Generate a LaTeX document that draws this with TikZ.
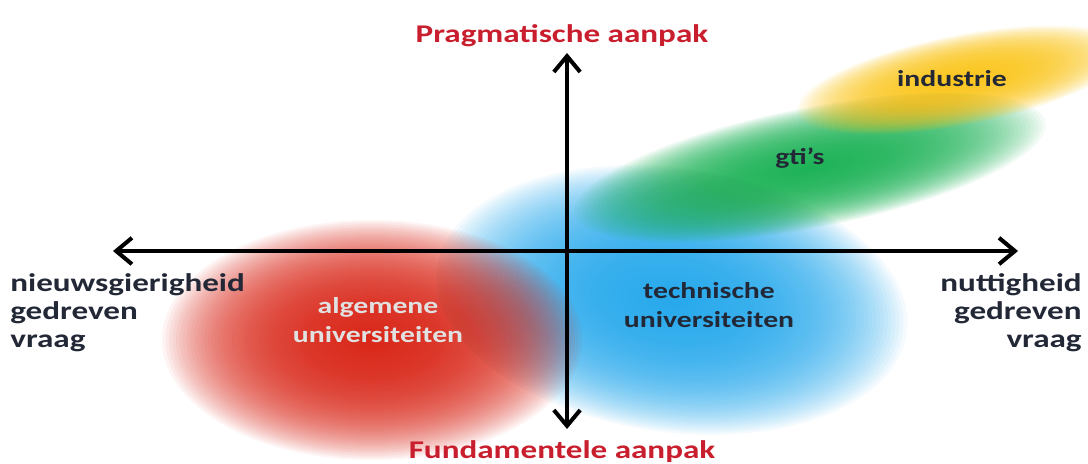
\documentclass[tikz,border=0pt]{standalone}
\usepackage{xcolor}
\usepackage{fontspec}
\setmainfont{Carlito}[FakeStretch=1.3]
\usepackage{tikz}
\usetikzlibrary{arrows.meta, positioning}
\definecolor{aanpakred}{RGB}{200,30,45}
\definecolor{redblob}{RGB}{215,30,15}
\definecolor{blueblob}{RGB}{30,165,235}
\definecolor{greenblob}{RGB}{20,175,80}
\definecolor{yellowblob}{RGB}{250,195,20}
\definecolor{labeldark}{RGB}{35,40,55}
\definecolor{labellight}{RGB}{225,225,225}
\tikzset{
  axis/.style={{Straight Barb[length=9pt,width=15pt]}-{Straight Barb[length=9pt,width=15pt]},
    line width=2.3pt, color=black},
  layer/.style={opacity=0.05},
  axislabel/.style={inner sep=0pt, font=\bfseries\fontsize{14.5}{16}\selectfont, text=labeldark},
  aanpaklabel/.style={inner sep=0pt, font=\bfseries\fontsize{14.5}{16}\selectfont, text=aanpakred},
  bloblabel/.style={inner sep=0pt, align=center, font=\bfseries\fontsize{13}{16.5}\selectfont,
    text=labeldark},
}

\begin{document}
\begin{tikzpicture}[x=0.02cm, y=-0.02cm]
  \useasboundingbox (0,0) rectangle (1088,463);

  % Soft clouds
  \foreach \k in {1,...,60} {
    \fill[blueblob, layer, rotate around={-8:(672,300)}] (672,300)
      ellipse [x radius=3.95*\k, y radius=2.2*\k];
  }
  \foreach \k in {1,...,60} {
    \fill[redblob, layer] (372,340) ellipse [x radius=3.5*\k, y radius=2.0*\k];
  }
  \foreach \k in {1,...,60} {
    \fill[greenblob, layer, rotate around={11:(810,168)}] (810,168)
      ellipse [x radius=4*\k, y radius=1.0*\k];
  }
  \foreach \k in {1,...,60} {
    \fill[yellowblob, layer, rotate around={11:(962,80)}] (962,80)
      ellipse [x radius=2.8*\k, y radius=0.75*\k];
  }

  % Axes
  \coordinate (west) at (113,251);
  \coordinate (east) at (1018,251);
  \coordinate (north) at (567,53);
  \coordinate (south) at (567,429);
  \draw[axis] (west) -- (east);
  \draw[axis] (north) -- (south);

  % Axis labels
  \node[aanpaklabel, anchor=base] (prag) at (562,42) {Pragmatische aanpak};
  \node[aanpaklabel, anchor=base] (fund) at (562,458) {Fundamentele aanpak};
  \node[axislabel, anchor=west, align=left] (nieuw) at (10,313)
    {nieuwsgierigheid\\gedreven\\vraag};
  \node[axislabel, anchor=east, align=right] (nut) at (1082,313)
    {nuttigheid\\gedreven\\vraag};

  % Cloud labels
  \node[bloblabel, text=labellight] (alg) at (378,320) {algemene\\universiteiten};
  \node[bloblabel] (tech) at (709,305) {technische\\universiteiten};
  \node[bloblabel] (gti) at (800,158) {gti's};
  \node[bloblabel] (ind) at (952,79) {industrie};
\end{tikzpicture}
\end{document}
